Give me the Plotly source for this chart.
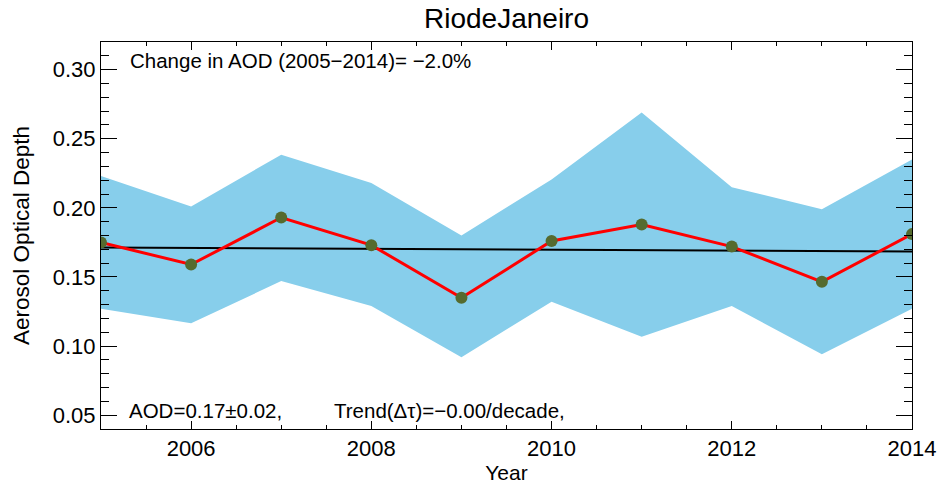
import plotly.graph_objects as go

years = [2005, 2006, 2007, 2008, 2009, 2010, 2011, 2012, 2013, 2014]
aod = [0.175, 0.159, 0.193, 0.173, 0.135, 0.176, 0.188, 0.172, 0.1465, 0.181]
upper = [0.223, 0.201, 0.2385, 0.218, 0.180, 0.2205, 0.269, 0.215, 0.199, 0.235]
lower = [0.127, 0.1165, 0.147, 0.129, 0.092, 0.132, 0.1067, 0.129, 0.094, 0.127]
trend_x = [2005, 2014]
trend_y = [0.1714, 0.1684]
xtick_vals = [2006, 2008, 2010, 2012, 2014]
ytick_vals = [0.05, 0.10, 0.15, 0.20, 0.25, 0.30]
ytick_text = ["0.05", "0.10", "0.15", "0.20", "0.25", "0.30"]

FONT = "Liberation Sans, Arial, Helvetica, sans-serif"

fig = go.Figure()
fig.add_trace(go.Scatter(x=years, y=upper, mode="lines", line=dict(width=0, color="#87CEEB"),
                         showlegend=False, hoverinfo="skip"))
fig.add_trace(go.Scatter(x=years, y=lower, mode="lines", line=dict(width=0, color="#87CEEB"),
                         fill="tonexty", fillcolor="#87CEEB", showlegend=False, hoverinfo="skip"))
fig.add_trace(go.Scatter(x=trend_x, y=trend_y, mode="lines", line=dict(color="black", width=2),
                         showlegend=False))
fig.add_trace(go.Scatter(x=years, y=aod, mode="lines+markers",
                         line=dict(color="#FF0000", width=3),
                         marker=dict(size=12, color="#556B2F"),
                         showlegend=False, cliponaxis=True))

fig.update_layout(
    width=938, height=484,
    margin=dict(l=101, r=26, t=42, b=55),
    paper_bgcolor="white", plot_bgcolor="white",
    font=dict(family=FONT, color="black", size=20),
    title=dict(text="RiodeJaneiro", x=0.5, xref="paper", xanchor="center",
               y=1 - 18 / 484, yanchor="middle", font=dict(size=28, family=FONT, color="black")),
    xaxis=dict(range=[2005, 2014], tickvals=xtick_vals, ticks="inside", ticklen=8,
               tickwidth=1, tickcolor="black", showline=True, linecolor="black", linewidth=1,
               mirror="allticks", showgrid=False, zeroline=False, automargin=False,
               tickfont=dict(size=22, family=FONT),
               minor=dict(dtick=0.5, tick0=2005, ticks="inside", ticklen=4, tickcolor="black",
                          showgrid=False),
               title=dict(text="Year", font=dict(size=21, family=FONT), standoff=0)),
    yaxis=dict(range=[0.04, 0.32], tickvals=ytick_vals, ticktext=ytick_text, ticks="inside",
               ticklen=16, tickwidth=1, tickcolor="black", showline=True, linecolor="black",
               linewidth=1, mirror="allticks", showgrid=False, zeroline=False, automargin=False,
               tickfont=dict(size=22, family=FONT),
               minor=dict(dtick=0.01, tick0=0.0, ticks="inside", ticklen=8, tickcolor="black",
                          showgrid=False),
               title=dict(text="Aerosol Optical Depth", font=dict(size=22.5, family=FONT), standoff=16)),
    annotations=[
        dict(text="Change in AOD (2005\u22122014)= \u22122.0%", xref="paper", yref="paper",
             x=0.033, y=0.951, xanchor="left", yanchor="middle", showarrow=False,
             font=dict(size=20.5, family=FONT)),
        dict(text="AOD=0.17\u00b10.02,", xref="paper", yref="paper",
             x=0.032, y=0.049, xanchor="left", yanchor="middle", showarrow=False,
             font=dict(size=20.5, family=FONT)),
        dict(text="Trend(\u0394\u03c4)=\u22120.00/decade,", xref="paper", yref="paper",
             x=0.2845, y=0.047, xanchor="left", yanchor="middle", showarrow=False,
             font=dict(size=20.5, family=FONT)),
    ],
)

fig.write_html("out.html", config={"displayModeBar": False},
               post_script="document.body.style.margin='0';document.body.style.overflow='hidden';")
